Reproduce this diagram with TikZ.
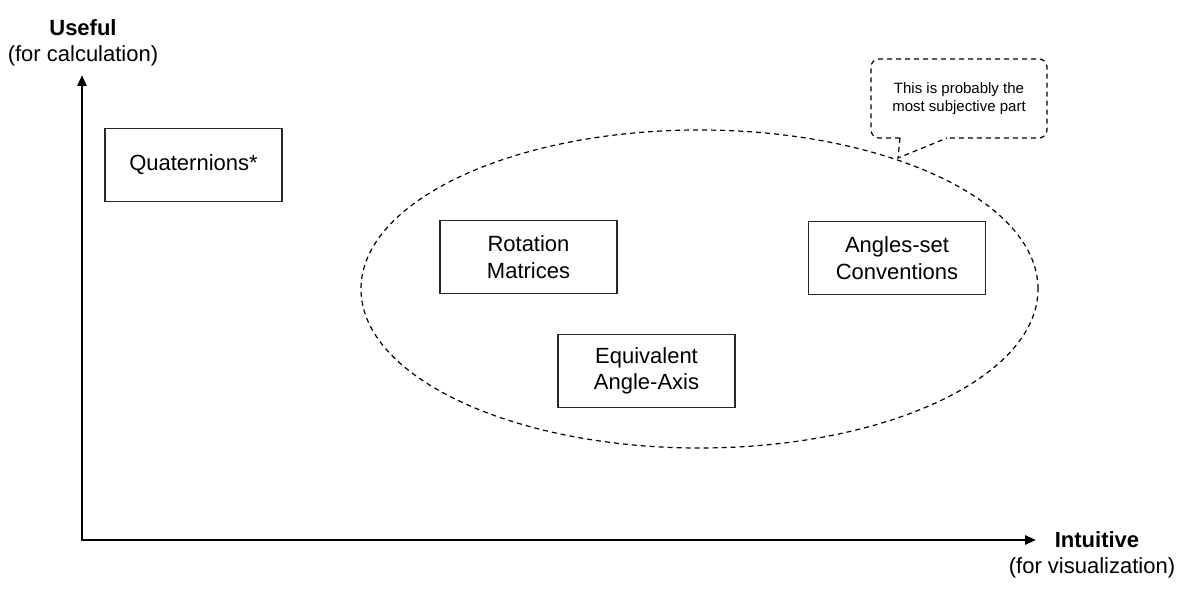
\documentclass[tikz,border=0pt]{standalone}
\usepackage{fontspec}
\setmainfont{Liberation Sans}
\usetikzlibrary{shapes.geometric,arrows.meta}
\tikzset{
  conceptbox/.style={draw=black!85, line width=1.2bp, minimum width=177bp, minimum height=73bp,
    inner sep=0pt, align=center, font=\fontsize{22bp}{26.5bp}\selectfont},
  axislabel/.style={align=center, inner sep=0pt, font=\fontsize{22bp}{28bp}\selectfont},
  axisline/.style={line width=2.7bp, {Triangle[length=11bp,width=9bp]}-{Triangle[length=11bp,width=9bp]}},
  dashline/.style={line width=1.2bp, dash pattern=on 5bp off 4bp},
}
\begin{document}
\begin{tikzpicture}[x=1bp,y=-1bp]
\useasboundingbox (0,0) rectangle (1190,591);
% axes
\coordinate (O) at (82,540);
\coordinate (ytip) at (82,75);
\coordinate (xtip) at (1036,540);
\draw[axisline] (ytip) -- (O) -- (xtip);
\node[axislabel] (ylab) at (83,28) {\textbf{Useful}};
\node[axislabel] (ylab2) at (83,56) {(for calculation)};
\node[axislabel] (xlab) at (1097,540) {\textbf{Intuitive}};
\node[axislabel] (xlab2) at (1092,568) {(for visualization)};
% region
\node[ellipse, draw, dashline, minimum width=677bp, minimum height=318bp, inner sep=0pt] (region) at (699.5,289) {};
% boxes
\node[conceptbox] (quat) at (193.5,165) {Quaternions*};
\node[conceptbox] (rot) at (528.5,257) {Rotation\\Matrices};
\node[conceptbox] (ang) at (897,258) {Angles-set\\Conventions};
\node[conceptbox] (eq) at (646.5,371) {Equivalent\\Angle-Axis};
% callout
\node[align=center, inner sep=0pt, font=\fontsize{15bp}{18bp}\selectfont] (note) at (959,99) {This is probably the\\most subjective part};
\coordinate (ptip) at (898,158);
\draw[dashline, rounded corners=8bp] (900,138) -- (871,138) -- (871,59) -- (1047,59) -- (1047,138) -- (947,138);
\draw[dashline] (900,138) -- (ptip) -- (947,138);
\end{tikzpicture}
\end{document}
